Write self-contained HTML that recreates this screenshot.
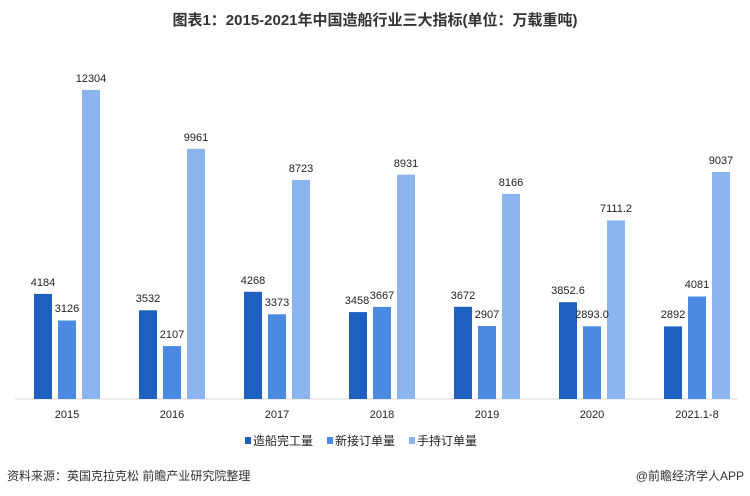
<!DOCTYPE html>
<html><head><meta charset="utf-8"><style>
body{margin:0;background:#fff;}
svg{display:block;font-family:"Liberation Sans","Noto Sans CJK SC",sans-serif;}
</style></head><body>
<svg width="750" height="496" viewBox="0 0 750 496" xmlns="http://www.w3.org/2000/svg">
<text x="375" y="25" text-anchor="middle" font-size="15" font-weight="bold" fill="#333">图表1：2015-2021年中国造船行业三大指标(单位：万载重吨)</text>
<line x1="15" y1="399" x2="738" y2="399" stroke="#d9d9d9" stroke-width="1"/>
<g>
<rect x="34" y="293.9" width="18" height="105.1" fill="#1f5fbf"/><rect x="58" y="320.5" width="18" height="78.5" fill="#4a8ae0"/><rect x="82" y="89.9" width="18" height="309.1" fill="#8cb4ee"/>
<rect x="139" y="310.3" width="18" height="88.7" fill="#1f5fbf"/><rect x="163" y="346.1" width="18" height="52.9" fill="#4a8ae0"/><rect x="187" y="148.8" width="18" height="250.2" fill="#8cb4ee"/>
<rect x="244" y="291.8" width="18" height="107.2" fill="#1f5fbf"/><rect x="268" y="314.3" width="18" height="84.7" fill="#4a8ae0"/><rect x="292" y="179.9" width="18" height="219.1" fill="#8cb4ee"/>
<rect x="349" y="312.1" width="18" height="86.9" fill="#1f5fbf"/><rect x="373" y="306.9" width="18" height="92.1" fill="#4a8ae0"/><rect x="397" y="174.7" width="18" height="224.3" fill="#8cb4ee"/>
<rect x="454" y="306.8" width="18" height="92.2" fill="#1f5fbf"/><rect x="478" y="326.0" width="18" height="73.0" fill="#4a8ae0"/><rect x="502" y="193.9" width="18" height="205.1" fill="#8cb4ee"/>
<rect x="559" y="302.2" width="18" height="96.8" fill="#1f5fbf"/><rect x="583" y="326.3" width="18" height="72.7" fill="#4a8ae0"/><rect x="607" y="220.4" width="18" height="178.6" fill="#8cb4ee"/>
<rect x="664" y="326.4" width="18" height="72.6" fill="#1f5fbf"/><rect x="688" y="296.5" width="18" height="102.5" fill="#4a8ae0"/><rect x="712" y="172.0" width="18" height="227.0" fill="#8cb4ee"/>
</g>
<g font-size="11" fill="#222" text-anchor="middle">
<text x="43" y="286">4184</text><text x="67" y="312">3126</text><text x="91" y="82">12304</text>
<text x="148" y="302">3532</text><text x="172" y="338">2107</text><text x="196" y="141">9961</text>
<text x="253" y="284">4268</text><text x="277" y="306">3373</text><text x="301" y="172">8723</text>
<text x="357" y="304">3458</text><text x="382" y="299">3667</text><text x="406" y="167">8931</text>
<text x="463" y="299">3672</text><text x="487" y="318">2907</text><text x="511" y="186">8166</text>
<text x="568" y="294">3852.6</text><text x="592" y="318">2893.0</text><text x="616" y="212">7111.2</text>
<text x="673" y="318">2892</text><text x="697" y="288">4081</text><text x="721" y="164">9037</text>
<text x="67" y="418">2015</text><text x="172" y="418">2016</text><text x="277" y="418">2017</text><text x="382" y="418">2018</text><text x="487" y="418">2019</text><text x="592" y="418">2020</text><text x="697" y="418">2021.1-8</text>
</g>
<g font-size="12" fill="#222">
<rect x="245" y="437" width="6" height="7" fill="#1f5fbf"/><text x="253" y="445">造船完工量</text>
<rect x="327" y="437" width="6" height="7" fill="#4a8ae0"/><text x="335" y="445">新接订单量</text>
<rect x="409" y="437" width="6" height="7" fill="#8cb4ee"/><text x="417" y="445">手持订单量</text>
</g>
<text x="7" y="480" font-size="12" fill="#333">资料来源：英国克拉克松 前瞻产业研究院整理</text>
<text x="744" y="480" font-size="12" fill="#333" text-anchor="end">@前瞻经济学人APP</text>
</svg>
</body></html>
